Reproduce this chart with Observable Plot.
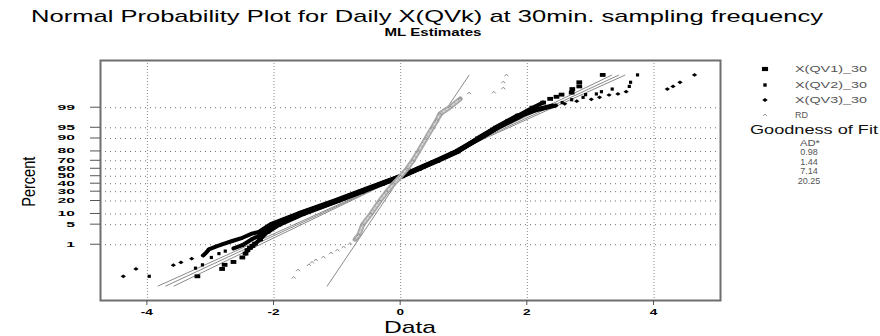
<!DOCTYPE html>
<html><head><meta charset="utf-8">
<script src="https://cdn.jsdelivr.net/npm/d3@7"></script>
<script src="https://cdn.jsdelivr.net/npm/@observablehq/plot@0.6"></script>
<style>
html,body{margin:0;padding:0;background:#fff;}
#chart{width:880px;height:336px;}
svg{display:block;}
</style></head><body><div id="chart"></div>
<script>
// ---------- data ----------
const titleText = "Normal Probability Plot for Daily X(QVk) at 30min. sampling frequency";
const subtitleText = "ML Estimates";
const xLabel = "Data";
const yLabel = "Percent";
const seriesNames = ["X(QV1)_30", "X(QV2)_30", "X(QV3)_30", "RD"];
const adHeader = "AD*";
const adValues = ["0.98", "1.44", "7.14", "20.25"];

const xTicks = [-4, -2, 0, 2, 4];
const xTickLabels = ["-4", "-2", "0", "2", "4"];
const yTickPct = [1, 5, 10, 20, 30, 40, 50, 60, 70, 80, 90, 95, 99];
const yTickLabels = ["1", "5", "10", "20", "30", "40", "50", "60", "70", "80", "90", "95", "99"];

const qv1Data = [-3.21, -2.82, -2.78, -2.64, -2.50, -2.45, -2.42, -2.38, -2.34, -2.30, -2.22, -2.10, -1.93, -1.55, -1.00, -0.62, -0.29, 0.02, 0.29, 0.58, 0.90, 1.22, 1.50, 1.70, 1.85, 2.08, 2.25, 2.36, 2.46, 2.54, 2.70, 2.71, 2.82, 2.82, 3.19];
const qv1Pct  = [0.034, 0.082, 0.131, 0.18, 0.29, 0.43, 0.6, 0.75, 0.9, 1.1, 1.6, 3, 5, 10, 20, 30, 40, 50, 60, 70, 80, 90, 95, 97, 98, 99.0, 99.38, 99.57, 99.65, 99.72, 99.774, 99.846, 99.886, 99.929, 99.971];

const qv2Data = [-3.97, -3.24, -3.13, -2.99, -2.87, -2.77, -2.64, -2.50, -2.35, -2.22, -2.12, -1.97, -1.58, -1.03, -0.63, -0.30, 0.01, 0.28, 0.57, 0.90, 1.25, 1.53, 1.75, 1.90, 2.10, 2.25, 2.40, 2.55, 2.70, 2.88, 2.92, 3.09, 3.17, 3.34, 3.61, 3.63, 3.74];
const qv2Pct  = [0.034, 0.09, 0.131, 0.29, 0.43, 0.55, 0.71, 0.96, 1.62, 2.3, 3, 5, 10, 20, 30, 40, 50, 60, 70, 80, 90, 95, 97, 98, 98.8, 99.0, 99.18, 99.38, 99.53, 99.63, 99.72, 99.74, 99.795, 99.846, 99.886, 99.929, 99.971];

const qv3Data = [-4.38, -4.18, -3.59, -3.47, -3.30, -3.12, -3.08, -3.05, -3.03, -2.92, -2.82, -2.66, -2.50, -2.35, -2.22, -2.05, -1.62, -1.05, -0.65, -0.31, 0.00, 0.27, 0.56, 0.88, 1.24, 1.52, 1.74, 1.90, 2.12, 2.30, 2.45, 2.59, 2.78, 3.01, 3.14, 3.29, 3.43, 3.56, 4.21, 4.30, 4.41, 4.64];
const qv3Pct  = [0.034, 0.082, 0.126, 0.17, 0.256, 0.357, 0.45, 0.55, 0.657, 0.842, 1.04, 1.39, 1.83, 2.56, 3, 5, 10, 20, 30, 40, 50, 60, 70, 80, 90, 95, 97, 98, 98.7, 99.0, 99.18, 99.3, 99.46, 99.55, 99.63, 99.71, 99.74, 99.795, 99.846, 99.886, 99.929, 99.971];

const rdData = [-1.69, -1.62, -1.45, -1.40, -1.34, -1.22, -1.10, -1.00, -0.90, -0.80, -0.72, -0.66, -0.60, -0.47, -0.33, -0.22, -0.11, 0.00, 0.10, 0.19, 0.28, 0.40, 0.50, 0.57, 0.62, 0.78, 0.94, 1.08, 1.47, 1.62, 1.62, 1.67];
const rdPct  = [0.029, 0.071, 0.13, 0.17, 0.22, 0.3, 0.45, 0.6, 0.8, 1.1, 1.6, 2.3, 5, 10, 20, 30, 40, 50, 60, 70, 80, 90, 95, 97.1, 98.3, 99.05, 99.57, 99.76, 99.78, 99.86, 99.93, 99.97];

// fitted (ML) lines: data value at the two end percents, per series
const fitLow  = [-3.58, -3.71, -3.83, -1.16];
const fitHigh = [3.33, 3.44, 3.54, 1.08];
const fitPct  = [0.0096, 99.970];

// ---------- helpers ----------
function probit(p){
  const a=[-3.969683028665376e+01,2.209460984245205e+02,-2.759285104469687e+02,1.383577518672690e+02,-3.066479806614716e+01,2.506628277459239e+00];
  const b=[-5.447609879822406e+01,1.615858368580409e+02,-1.556989798598866e+02,6.680131188771972e+01,-1.328068155288572e+01];
  const c=[-7.784894002430293e-03,-3.223964580411365e-01,-2.400758277161838e+00,-2.549732539343734e+00,4.374664141464968e+00,2.938163982698783e+00];
  const d=[7.784695709041462e-03,3.224671290700398e-01,2.445134137142996e+00,3.754408661907416e+00];
  const pl=0.02425, ph=1-pl; let q,r;
  if(p<pl){q=Math.sqrt(-2*Math.log(p));return (((((c[0]*q+c[1])*q+c[2])*q+c[3])*q+c[4])*q+c[5])/((((d[0]*q+d[1])*q+d[2])*q+d[3])*q+1);}
  if(p<=ph){q=p-0.5;r=q*q;return (((((a[0]*r+a[1])*r+a[2])*r+a[3])*r+a[4])*r+a[5])*q/(((((b[0]*r+b[1])*r+b[2])*r+b[3])*r+b[4])*r+1);}
  q=Math.sqrt(-2*Math.log(1-p));return -(((((c[0]*q+c[1])*q+c[2])*q+c[3])*q+c[4])*q+c[5])/((((d[0]*q+d[1])*q+d[2])*q+d[3])*q+1);
}
const toRows = (data, pct, name) => data.map((x, i) => ({x, z: probit(pct[i] / 100), pct: pct[i], name}));

const qv1 = toRows(qv1Data, qv1Pct, seriesNames[0]);
const qv2 = toRows(qv2Data, qv2Pct, seriesNames[1]);
const qv3 = toRows(qv3Data, qv3Pct, seriesNames[2]);
const rd  = toRows(rdData, rdPct, seriesNames[3]);
const fitRows = seriesNames.flatMap((name, i) => [
  {name, x: fitLow[i], z: probit(fitPct[0] / 100)},
  {name, x: fitHigh[i], z: probit(fitPct[1] / 100)}
]);
const yTickZ = yTickPct.map(p => probit(p / 100));

// marker shapes
const symRect = {draw(ctx, size){ const s = Math.sqrt(size); ctx.rect(-s*0.62, -s*0.42, s*1.24, s*0.84); }};
const symSq = {draw(ctx, size){ const s = Math.sqrt(size)/2; ctx.rect(-s, -s, 2*s, 2*s); }};
const symDia = {draw(ctx, size){ const s = Math.sqrt(size); ctx.moveTo(-s*0.6, 0); ctx.lineTo(0, -s*0.42); ctx.lineTo(s*0.6, 0); ctx.lineTo(0, s*0.42); ctx.closePath(); }};
const symCaret = {draw(ctx, size){ const s = Math.sqrt(size)/2; ctx.moveTo(-s, s*0.55); ctx.lineTo(0, -s*0.55); ctx.lineTo(s, s*0.55); }};

const band = (rows, lo, hi) => rows.filter(d => d.pct >= lo && d.pct <= hi);
const bandStyle = {x: "x", y: "z", stroke: "#000", strokeWidth: 5, strokeLinecap: "round", strokeLinejoin: "round"};

const chart = Plot.plot({
  width: 880, height: 336,
  marginLeft: 100, marginRight: 160, marginTop: 60, marginBottom: 36,
  x: {domain: [-4.74, 5.05], axis: null},
  y: {domain: [-4.22, 3.93], axis: null},
  style: {background: "white", overflow: "visible"},
  marks: [
    Plot.ruleX(xTicks, {stroke: "#8a8a8a", strokeDasharray: "1,2"}),
    Plot.ruleY(yTickZ, {stroke: "#707070", strokeDasharray: "1,4"}),
    Plot.line(fitRows, {x: "x", y: "z", z: "name", stroke: "#8a8a8a", strokeWidth: 1}),
    Plot.line(band(qv3, 0.35, 99.2), {...bandStyle, strokeWidth: 4}),
    Plot.line(band(qv2, 0.7, 99.2), {...bandStyle, strokeWidth: 4}),
    Plot.line(band(qv1, 0.4, 99.4), {...bandStyle, strokeWidth: 4}),
    Plot.line(band(qv3, 3, 98), bandStyle),
    Plot.line(band(qv1, 3, 98), bandStyle),
    Plot.dot(qv3, {x: "x", y: "z", symbol: symDia, r: 2.5, fill: "#000", stroke: "none"}),
    Plot.dot(qv2, {x: "x", y: "z", symbol: symSq, r: 1.8, fill: "#000", stroke: "none"}),
    Plot.dot(qv1, {x: "x", y: "z", symbol: symRect, r: 2.6, fill: "#000", stroke: "none"}),
    Plot.line(band(rd, 1.5, 99.6), {x: "x", y: "z", stroke: "#a8a8a8", strokeWidth: 5, strokeLinecap: "round", strokeLinejoin: "round"}),
    Plot.line(band(rd, 1.5, 99.6), {x: "x", y: "z", stroke: "#d8d8d8", strokeWidth: 1.5, strokeDasharray: "2,2"}),
    Plot.dot(rd, {x: "x", y: "z", symbol: symCaret, r: 2.2, fill: "none", stroke: "#8c8c8c", strokeWidth: 1}),
    Plot.frame({stroke: "#6e6e6e", strokeWidth: 2})
  ]
});
document.getElementById("chart").append(chart);

// ---------- axes, titles, legend (positioned via Plot's scales) ----------
const sx = chart.scale("x"), sy = chart.scale("y");
const X = sx.apply ? (v => sx.apply(v)) : d3.scaleLinear(sx.domain, sx.range);
const Y = sy.apply ? (v => sy.apply(v)) : d3.scaleLinear(sy.domain, sy.range);
const svg = d3.select(chart);
const FONT = "'Liberation Sans', Arial, Helvetica, sans-serif";
const frameLeft = X(-4.74), frameBottom = Y(-4.22);

function txt(g, s, x, y, o = {}) {
  const t = g.append("text").attr("x", x).attr("y", y).text(s)
    .attr("font-family", FONT).attr("font-size", o.size || 10)
    .attr("font-weight", o.weight || "normal").attr("fill", o.fill || "#000")
    .attr("text-anchor", o.anchor || "start");
  if (o.transform) t.attr("transform", o.transform);
  if (o.width) t.attr("textLength", o.width).attr("lengthAdjust", "spacingAndGlyphs");
  else if (o.stretch) {
    const w = t.node().getComputedTextLength();
    if (w > 0) t.attr("textLength", w * o.stretch).attr("lengthAdjust", "spacingAndGlyphs");
  }
  return t;
}

const gA = svg.append("g");
yTickZ.forEach((z, i) => {
  gA.append("line").attr("x1", frameLeft - 10).attr("x2", frameLeft).attr("y1", Y(z)).attr("y2", Y(z)).attr("stroke", "#555");
  txt(gA, yTickLabels[i], frameLeft - 25, Y(z) + 2.4, {size: 6.5, weight: "bold", anchor: "end", stretch: 2.4});
});
xTicks.forEach((v, i) => {
  gA.append("line").attr("x1", X(v)).attr("x2", X(v)).attr("y1", frameBottom).attr("y2", frameBottom + 5).attr("stroke", "#555");
  txt(gA, xTickLabels[i], X(v), frameBottom + 15, {size: 8.5, weight: "bold", anchor: "middle", stretch: 1.6});
});

txt(svg, titleText, 427, 22, {size: 17, anchor: "middle", width: 792});
txt(svg, subtitleText, 433, 36, {size: 10, weight: "bold", anchor: "middle", width: 97});
txt(svg, xLabel, 410, 333, {size: 17, anchor: "middle", width: 52});
txt(svg, yLabel, 0, 0, {size: 18, anchor: "middle", width: 50, transform: "translate(35,181.7) rotate(-90)"});

// legend
const gL = svg.append("g");
const legSyms = [
  {sym: symRect, r: 2.8, fill: "#000", stroke: "none"},
  {sym: symSq, r: 1.9, fill: "#000", stroke: "none"},
  {sym: symDia, r: 2.6, fill: "#000", stroke: "none"},
  {sym: symCaret, r: 2.2, fill: "none", stroke: "#9a9a9a"}
];
const legY = [69, 85, 100, 115];
const legW = [72, 72, 72, 13];
seriesNames.forEach((name, i) => {
  const s = legSyms[i];
  gL.append("path").attr("d", d3.symbol(s.sym, Math.PI * s.r * s.r)())
    .attr("transform", `translate(765,${legY[i]})`).attr("fill", s.fill).attr("stroke", s.stroke);
  txt(gL, name, 795, legY[i] + 3.3, {size: 9.5, fill: "#555", width: legW[i]});
});
txt(gL, "Goodness of Fit", 814, 133.5, {size: 13, fill: "#111", anchor: "middle", width: 128});
txt(gL, adHeader, 810, 146, {size: 9, fill: "#555", anchor: "middle", width: 20});
adValues.forEach((v, i) => txt(gL, v, 809, 155 + i * 9.7, {size: 9, fill: "#555", anchor: "middle"}));
</script>
</body></html>
